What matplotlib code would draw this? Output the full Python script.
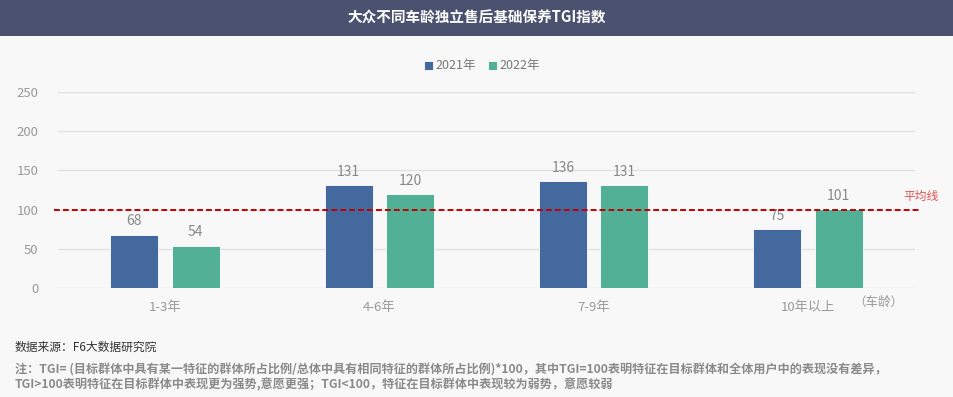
import numpy as np
import matplotlib.pyplot as plt
from matplotlib.patches import Rectangle

plt.rcParams['font.family'] = ['Noto Sans CJK SC', 'DejaVu Sans']

categories = ['1-3年', '4-6年', '7-9年', '10年以上']
tgi_2021 = [68, 131, 136, 75]
tgi_2022 = [54, 120, 131, 101]
series_names = ['2021年', '2022年']
avg_line = 100
yticks = [0, 50, 100, 150, 200, 250]

blue = '#44699f'
green = '#52b097'
grey = '#9a9a9a'

fig = plt.figure(figsize=(9.54, 3.97), dpi=100)
fig.patch.set_facecolor('#f8f8f9')

# header bar
fig.patches.append(Rectangle((0, 1 - 36 / 397), 1, 36 / 397, transform=fig.transFigure,
                             facecolor='#4a5270', edgecolor='none', zorder=0))
fig.text(0.5, 1 - 18 / 397, '大众不同车龄独立售后基础保养TGI指数', color='white',
         fontsize=10.5, fontweight='bold', ha='center', va='center')

ax = fig.add_axes([58 / 954, 1 - 288 / 397, (915 - 58) / 954, (288 - 92) / 397])
ax.set_facecolor('#f8f8f9')

x = np.arange(len(categories))
w = 0.224
off = 0.143
b1 = ax.bar(x - off, tgi_2021, w, color=blue, edgecolor='white', linewidth=0.6,
            label=series_names[0], zorder=3)
b2 = ax.bar(x + off, tgi_2022, w, color=green, edgecolor='white', linewidth=0.6,
            label=series_names[1], zorder=3)
for bars in (b1, b2):
    for r in bars:
        ax.text(r.get_x() + r.get_width() / 2, r.get_height() + 8, f'{r.get_height():.0f}',
                ha='center', va='bottom', color='#888888', fontsize=10, zorder=4)

ax.set_xlim(-0.5, len(categories) - 0.5)
ax.set_ylim(0, 250)
ax.set_yticks(yticks)
ax.set_xticks(x)
ax.set_xticklabels(categories)
ax.tick_params(axis='both', length=0, colors=grey, labelsize=9.5)
ax.tick_params(axis='x', pad=9)
ax.tick_params(axis='y', pad=14)
ax.grid(axis='y', color='#e0e0e0', linewidth=0.9, zorder=0)
for s in ax.spines.values():
    s.set_visible(False)

# average line reaches a bit past the plot area
ax.plot([-0.52, 3.52], [avg_line, avg_line], color='#c00000', linestyle=(0, (3, 1.6)),
        linewidth=1.4, clip_on=False, zorder=5)
ax.text(3.53, avg_line + 8, '平均线', color='#e05050', fontsize=8.5, ha='center', va='bottom')
ax.text(3.33, -10, '（车龄）', color=grey, fontsize=9, ha='center', va='top')

fig.legend(handles=[b1, b2], labels=series_names, loc='center', ncol=2,
           bbox_to_anchor=(0.505, 1 - 66 / 397), frameon=False, fontsize=9,
           handlelength=0.7, handleheight=0.7, handletextpad=0.2, columnspacing=1.0,
           labelcolor='#777777')

fig.text(15 / 954, 1 - 347 / 397, '数据来源：F6大数据研究院', fontsize=8.5, color='#333333',
         va='center')
fig.text(15 / 954, 1 - 370 / 397,
         '注：TGI= (目标群体中具有某一特征的群体所占比例/总体中具有相同特征的群体所占比例)*100，'
         '其中TGI=100表明特征在目标群体和全体用户中的表现没有差异，',
         fontsize=8.7, color='#8a8a8a', style='italic', fontweight='bold', va='center')
fig.text(15 / 954, 1 - 385 / 397,
         'TGI>100表明特征在目标群体中表现更为强势,意愿更强；TGI<100，特征在目标群体中表现较为弱势，意愿较弱',
         fontsize=8.7, color='#8a8a8a', style='italic', fontweight='bold', va='center')

fig.savefig('out.png', dpi=100, facecolor=fig.get_facecolor())
